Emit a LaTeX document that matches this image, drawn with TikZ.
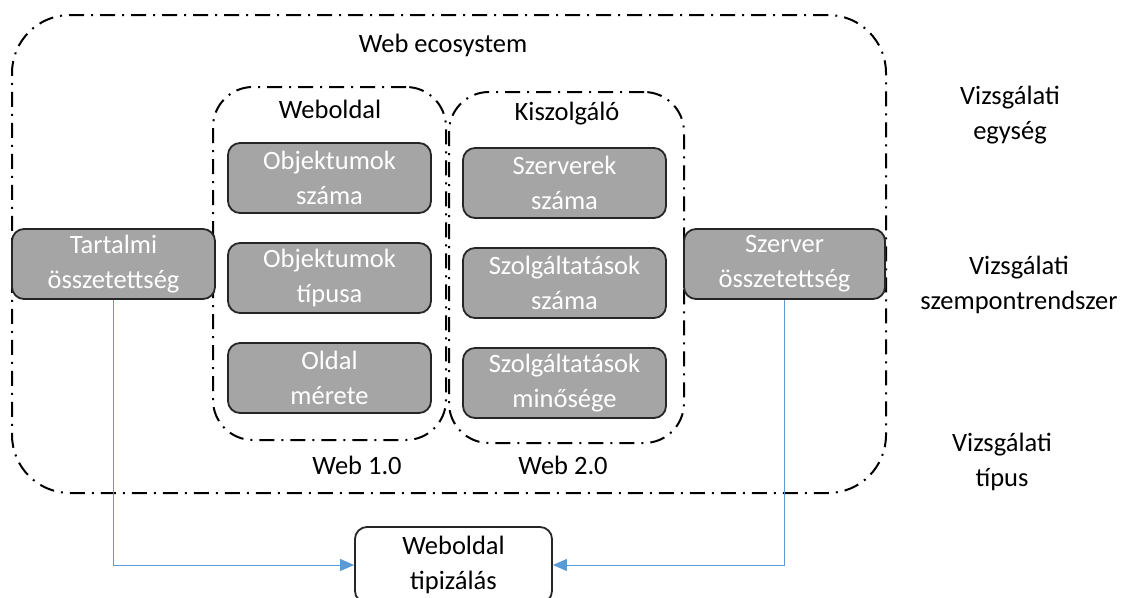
\documentclass[tikz,border=0pt]{standalone}
\usepackage{fontspec}
\setmainfont{Carlito}
\usetikzlibrary{arrows.meta}
\definecolor{boxgray}{HTML}{A5A5A5}
\definecolor{linkblue}{HTML}{5B9BD5}
\begin{document}
\begin{tikzpicture}[x=1pt, y=-1pt,
  font=\fontsize{26.5}{35}\selectfont,
  frame/.style={draw, line width=2pt, dash pattern=on 15pt off 7pt on 2pt off 7pt, inner sep=0pt},
  metric/.style={draw=black!85, line width=1.8pt, fill=boxgray, text=white, rounded corners=12pt, minimum width=203pt, minimum height=70pt, align=center, inner sep=0pt},
  plain/.style={align=center, inner sep=0pt},
  link/.style={draw=linkblue, line width=1pt, -{Triangle[length=14pt, width=12pt]}}]
 \useasboundingbox (0,0) rectangle (1129,597);

 \node[frame, rounded corners=58pt, minimum width=874pt, minimum height=478pt] (eco) at (449,254) {};
 \node[frame, rounded corners=40pt, minimum width=233pt, minimum height=353pt] (weboldal) at (329.5,263.5) {};
 \node[frame, rounded corners=40pt, minimum width=235pt, minimum height=351pt] (kiszolg) at (566.5,267.5) {};

 \node[plain] (ecolbl) at (443,45) {Web ecosystem};
 \node[plain] (weblbl) at (330,109) {Weboldal};
 \node[plain] (kiszlbl) at (567,114) {Kiszolgáló};
 \node[plain] (web1) at (357,465) {Web 1.0};
 \node[plain] (web2) at (563,465) {Web 2.0};

 \node[metric] (objszam) at (329.5,178) {Objektumok\\száma};
 \node[metric] (objtip) at (329.5,278) {Objektumok\\típusa};
 \node[metric] (oldmer) at (329.5,378) {Oldal\\mérete};
 \node[metric] (szervszam) at (564.5,183) {Szerverek\\száma};
 \node[metric] (szolgszam) at (564.5,283) {Szolgáltatások\\száma};
 \node[metric] (szolgmin) at (564.5,383) {Szolgáltatások\\minősége};
 \node[metric] (tartalmi) at (113.5,264) {Tartalmi\\összetettség};
 \node[metric, minimum width=201pt] (szerver) at (784.5,264) {Szerver\\összetettség};

 \node[metric, fill=white, text=black, minimum width=197pt, minimum height=76pt] (tipiz) at (453.5,565) {Weboldal\\tipizálás};

 \node[plain] (egyseg) at (1010,115) {Vizsgálati\\egység};
 \node[plain] (szemp) at (1019,285) {Vizsgálati\\szempontrendszer};
 \node[plain] (tipus) at (1002,462) {Vizsgálati\\típus};

 \draw[link] (tartalmi.south) |- (tipiz.west);
 \draw[link] (szerver.south) |- (tipiz.east);
\end{tikzpicture}
\end{document}
